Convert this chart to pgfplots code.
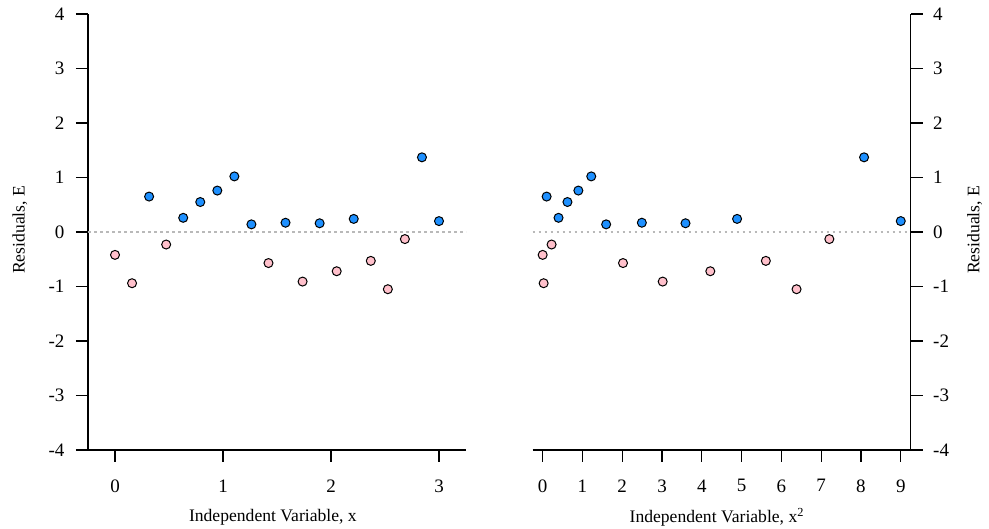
\documentclass[border=0pt]{standalone}
\usepackage{pgfplots}
\pgfplotsset{compat=1.18}
\usepackage{fontspec}
\setmainfont{Liberation Serif}
\definecolor{ptblue}{RGB}{30,144,255}
\definecolor{ptpink}{RGB}{255,192,203}
\definecolor{zgray}{RGB}{185,185,185}
\begin{document}
\begin{tikzpicture}[x=1bp,y=1bp]
\path[use as bounding box] (0,0) rectangle (989,529);
\pgfplotsset{
  resid/.style={
    scale only axis, width=378bp, height=436bp,
    ymin=-4, ymax=4, ytick={-4,-3,...,4},
    axis x line*=bottom,
    tick align=outside, major tick length=12bp,
    axis line style={line width=1.2bp, black},
    every tick/.style={line width=1.2bp, black},
    /pgf/number format/assume math mode=true,
    ticklabel style={font=\fontsize{19bp}{22bp}\selectfont},
    label style={font=\fontsize{17.6bp}{20bp}\selectfont},
    xticklabel style={yshift=-14bp},
    clip=false,
  },
  pos/.style={only marks, mark=*, mark size=4.5bp, mark options={draw=black, fill=ptblue, line width=1bp}},
  neg/.style={only marks, mark=*, mark size=4.5bp, mark options={draw=black, fill=ptpink, line width=1bp}},
}
% left panel
\begin{axis}[resid, at={(88bp,79bp)}, anchor=south west,
  xmin=-0.25, xmax=3.25, xtick={0,1,2,3},
  axis y line*=left,
  xlabel={Independent Variable, x},
  xlabel style={at={(axis description cs:0.489,-0.154)}, anchor=center},
  ylabel={Residuals, E},
  ylabel style={at={(axis description cs:-0.18,0.505)}, anchor=center, rotate=0},
  yticklabel style={xshift=-8bp},
]
\addplot[zgray, line width=1.3bp, dash pattern=on 2.5bp off 3.5bp] coordinates {(-0.25,0) (3.25,0)};
\draw[line width=1.2bp] (rel axis cs:0,0) -- ++(-12bp,0bp);
\addplot[neg] table {
x y
0.0000 -0.42
0.1579 -0.94
0.4737 -0.23
1.4211 -0.57
1.7368 -0.91
2.0526 -0.72
2.3684 -0.53
2.5263 -1.05
2.6842 -0.13
};
\addplot[pos] table {
x y
0.3158 0.65
0.6316 0.26
0.7895 0.55
0.9474 0.76
1.1053 1.02
1.2632 0.14
1.5789 0.17
1.8947 0.16
2.2105 0.24
2.8421 1.37
3.0000 0.20
};
\end{axis}
% right panel
\begin{axis}[resid, at={(532.7bp,79bp)}, anchor=south west,
  xmin=-0.25, xmax=9.25, xtick={0,1,...,9},
  axis y line*=right,
  xlabel={Independent Variable, x\textsuperscript{2}},
  xlabel style={at={(axis description cs:0.487,-0.154)}, anchor=center},
  ylabel={Residuals, E},
  ylabel style={at={(axis description cs:1.169,0.505)}, anchor=center, rotate=0},
  yticklabel style={xshift=7bp},
]
\addplot[zgray, line width=1.3bp, dash pattern=on 2.5bp off 3.5bp] coordinates {(-0.25,0) (9.25,0)};
\draw[line width=1.2bp] (rel axis cs:1,0) -- ++(12bp,0bp);
\addplot[neg] table {
x y
0.0000 -0.42
0.0249 -0.94
0.2244 -0.23
2.0194 -0.57
3.0166 -0.91
4.2133 -0.72
5.6094 -0.53
6.3809 -1.05
7.2050 -0.13
};
\addplot[pos] table {
x y
0.0997 0.65
0.3989 0.26
0.6233 0.55
0.8975 0.76
1.2216 1.02
1.5956 0.14
2.4931 0.17
3.5900 0.16
4.8864 0.24
8.0776 1.37
9.0000 0.20
};
\end{axis}
\end{tikzpicture}
\end{document}
